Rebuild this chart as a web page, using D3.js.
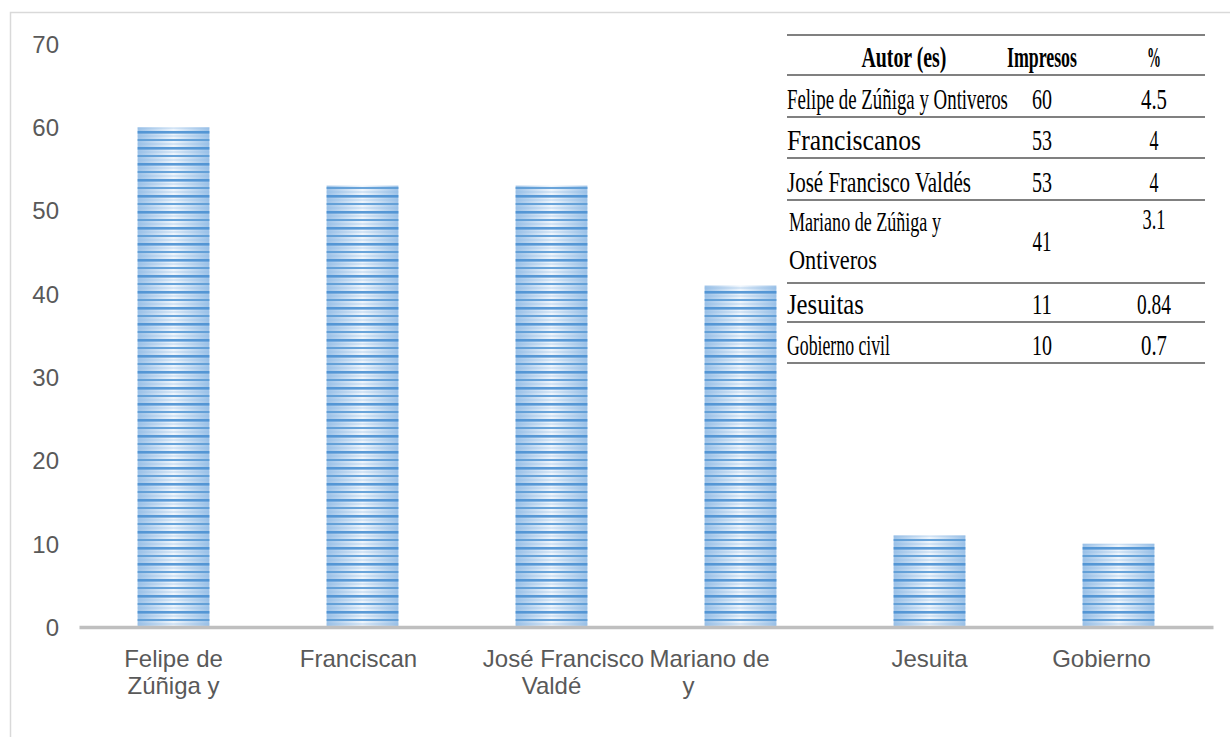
<!DOCTYPE html>
<html>
<head>
<meta charset="utf-8">
<script src="https://cdn.jsdelivr.net/npm/d3@7"></script>
<style>
  html, body { margin: 0; padding: 0; background: #ffffff; }
  svg { display: block; }
</style>
</head>
<body>
<svg id="chart" width="1230" height="737"></svg>
<script>
// ---------------- DATA ----------------
const categories = ["Felipe de Zúñiga y", "Franciscan", "José Francisco Valdé", "Mariano de y", "Jesuita", "Gobierno"];
const categoryLines = [["Felipe de", "Zúñiga y"], ["Franciscan"], ["José Francisco", "Valdé"], ["Mariano de", "y"], ["Jesuita"], ["Gobierno"]];
const values = [60, 53, 53, 41, 11, 10];
const yTicks = [0, 10, 20, 30, 40, 50, 60, 70];

const tableHeader = ["Autor (es)", "Impresos", "%"];
const tableAuthors = [["Felipe de Zúñiga y Ontiveros"], ["Franciscanos"], ["José Francisco Valdés"], ["Mariano de Zúñiga y", "Ontiveros"], ["Jesuitas"], ["Gobierno civil"]];
const tableImpresos = ["60", "53", "53", "41", "11", "10"];
const tablePercent = ["4.5", "4", "4", "3.1", "0.84", "0.7"];

// ---------------- LAYOUT ----------------
const svg = d3.select("#chart");
const W = 1230, H = 737;
const plot = { left: 79, right: 1213, top: 44, bottom: 627 };

svg.append("rect").attr("x", 0).attr("y", 0).attr("width", W).attr("height", H).attr("fill", "#fff");
svg.append("rect").attr("x", 10.5).attr("y", 12.5).attr("width", 1300).attr("height", 800)
  .attr("fill", "none").attr("stroke", "#d9d9d9").attr("stroke-width", 1.5);

const x = d3.scaleBand().domain(categories).range([plot.left, plot.right])
  .paddingInner(0.62).paddingOuter(0.31);
const y = d3.scaleLinear().domain([0, 70]).range([plot.bottom, plot.top]);

const defs = svg.append("defs");
const grad = defs.append("linearGradient").attr("id", "barGrad")
  .attr("x1", 0).attr("x2", 1).attr("y1", 0).attr("y2", 0);
grad.append("stop").attr("offset", "0%").attr("stop-color", "#9cc2e8");
grad.append("stop").attr("offset", "50%").attr("stop-color", "#eef5fc");
grad.append("stop").attr("offset", "100%").attr("stop-color", "#9cc2e8");

const pat = defs.append("pattern").attr("id", "stripes").attr("patternUnits", "userSpaceOnUse")
  .attr("width", 8).attr("height", 16).attr("patternTransform", `translate(0,${plot.bottom})`);
pat.append("rect").attr("x", 0).attr("y", 0).attr("width", 8).attr("height", 2.6).attr("fill", "#4a90d2");
pat.append("rect").attr("x", 0).attr("y", 4.5).attr("width", 8).attr("height", 1).attr("fill", "#8fbbe6").attr("opacity", 0.6);
pat.append("rect").attr("x", 0).attr("y", 8).attr("width", 8).attr("height", 2).attr("fill", "#5b9bd5");
pat.append("rect").attr("x", 0).attr("y", 12.5).attr("width", 8).attr("height", 1).attr("fill", "#8fbbe6").attr("opacity", 0.6);

const bars = svg.append("g");
bars.selectAll("rect.bg").data(values).join("rect").attr("class", "bg")
  .attr("x", (d, i) => x(categories[i])).attr("width", x.bandwidth())
  .attr("y", d => y(d)).attr("height", d => y(0) - y(d))
  .attr("fill", "url(#barGrad)");
bars.selectAll("rect.st").data(values).join("rect").attr("class", "st")
  .attr("x", (d, i) => x(categories[i])).attr("width", x.bandwidth())
  .attr("y", d => y(d)).attr("height", d => y(0) - y(d))
  .attr("fill", "url(#stripes)").attr("opacity", 0.9);

const yAxis = d3.axisLeft(y).tickValues(yTicks).tickSize(0).tickPadding(0).tickFormat(d3.format("d"));
const gy = svg.append("g").attr("transform", "translate(59,0)").call(yAxis);
gy.select(".domain").remove();
gy.selectAll("text").attr("font-family", "Liberation Sans, Arial, sans-serif")
  .attr("font-size", 24).attr("fill", "#595959").attr("dy", "0.35em");

const xAxis = d3.axisBottom(x).tickSize(0).tickFormat("");
const gx = svg.append("g").attr("transform", `translate(0,${plot.bottom})`).call(xAxis);
gx.select(".domain").attr("stroke", "#bfbfbf").attr("stroke-width", 3.5);

const lineShift = [[0, 0], [-4], [12, 0], [-31, -52], [0], [-17]];
const lbl = svg.append("g").attr("font-family", "Liberation Sans, Arial, sans-serif")
  .attr("font-size", 24).attr("fill", "#595959").attr("text-anchor", "middle");
categoryLines.forEach((lines, i) => {
  const cx = x(categories[i]) + x.bandwidth() / 2;
  lines.forEach((t, j) => {
    lbl.append("text").attr("x", cx + lineShift[i][j]).attr("y", 667 + j * 27).text(t);
  });
});

// ---------------- TABLE ----------------
const tbl = svg.append("g").attr("font-family", "Liberation Serif, 'Times New Roman', serif").attr("fill", "#000");
const tLeft = 787, tRight = 1205;
const colCenter = [904, 1042, 1154];
const headerTop = 35, headerH = 40;
const rowH = [42, 41, 42, 83, 39, 41];
const fitWidth = {
  "Autor (es)": 85, "Impresos": 70, "%": 14,
  "Felipe de Zúñiga y Ontiveros": 221, "Franciscanos": 134, "José Francisco Valdés": 184,
  "Mariano de Zúñiga y": 152, "Ontiveros": 88, "Jesuitas": 77, "Gobierno civil": 103,
  "0.84": 34, "4": 9, "4.5": 26, "3.1": 23, "0.7": 26
};
function tText(str, ax, by, anchor, size, bold, defWidth) {
  const t = tbl.append("text").attr("x", 0).attr("y", 0).attr("font-size", size)
    .attr("font-weight", bold ? "bold" : "normal").text(str);
  const nat = t.node().getComputedTextLength();
  const target = fitWidth[str] !== undefined ? fitWidth[str] : defWidth;
  const s = target / nat;
  const left = anchor === "middle" ? ax - target / 2 : ax;
  t.attr("transform", `translate(${left},${by}) scale(${s},1)`);
  return t;
}
const lineStyle = l => l.attr("stroke", "#808080").attr("stroke-width", 2);
const FS = 29;

lineStyle(tbl.append("line").attr("x1", tLeft).attr("x2", tRight).attr("y1", headerTop).attr("y2", headerTop));
tableHeader.forEach((t, c) => tText(t, colCenter[c], headerTop + headerH - 8, "middle", 30, true, 20));
let yy = headerTop + headerH;
lineStyle(tbl.append("line").attr("x1", tLeft).attr("x2", tRight).attr("y1", yy).attr("y2", yy));
tableAuthors.forEach((lines, r) => {
  const top = yy, bot = yy + rowH[r];
  if (lines.length === 1) {
    tText(lines[0], tLeft, bot - 8, "start", FS, false, 100);
    tText(tableImpresos[r], colCenter[1], bot - 8, "middle", FS, false, 20);
    tText(tablePercent[r], colCenter[2], bot - 8, "middle", FS, false, 26);
  } else {
    lines.forEach((ln, j) => tText(ln, tLeft + 2, top + 31 + j * 38, "start", 28, false, 100));
    tText(tableImpresos[r], colCenter[1], top + 51, "middle", FS, false, 19);
    tText(tablePercent[r], colCenter[2], top + 29, "middle", FS, false, 23);
  }
  yy = bot;
  lineStyle(tbl.append("line").attr("x1", tLeft).attr("x2", tRight).attr("y1", yy).attr("y2", yy));
});
</script>
</body>
</html>
